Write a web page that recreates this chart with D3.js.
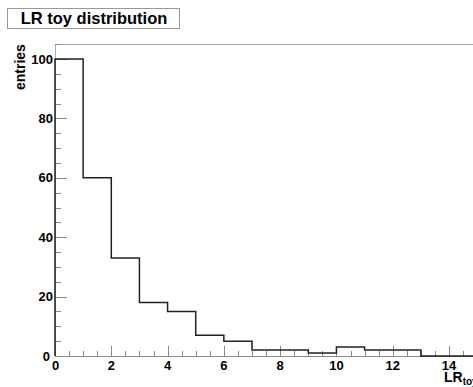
<!DOCTYPE html>
<html><head><meta charset="utf-8">
<script src="https://cdn.jsdelivr.net/npm/d3@7"></script>
<style>body{margin:0;background:#fff}svg{display:block;font-family:"Liberation Sans",Arial,sans-serif}</style>
</head><body>
<script>
const binEdges = [0,1,2,3,4,5,6,7,8,9,10,11,12,13,14,15,16,17,18,19,20];
const counts   = [100,60,33,18,15,7,5,2,2,1,3,2,2,0,0,0,0,0,0,0];
const xTicks = [0,2,4,6,8,10,12,14];
const yTicks = [0,20,40,60,80,100];
const title = "LR toy distribution";
const yLabel = "entries";

const W=473,H=387;
const svg=d3.select("body").append("svg").attr("width",W).attr("height",H);
const x=d3.scaleLinear().domain([0,14]).range([55,449]);
const y=d3.scaleLinear().domain([0,100]).range([356,59]);
const yTop=y(105), xRight=x(20);

// frame
svg.append("line").attr("x1",x(0)).attr("x2",xRight).attr("y1",Math.round(yTop)+0.5).attr("y2",Math.round(yTop)+0.5).attr("stroke","#aaa").attr("stroke-width",1);
svg.append("line").attr("x1",x(0)+0.5).attr("x2",x(0)+0.5).attr("y1",yTop).attr("y2",y(0)).attr("stroke","#aaa");
svg.append("line").attr("x1",x(0)).attr("x2",xRight).attr("y1",y(0)+0.5).attr("y2",y(0)+0.5).attr("stroke","#888");

// x ticks
const xMinor=d3.range(0,20.01,0.5);
svg.append("g").selectAll("line").data(xMinor).join("line")
 .attr("x1",d=>Math.round(x(d))+0.5).attr("x2",d=>Math.round(x(d))+0.5)
 .attr("y1",y(0)).attr("y2",d=>y(0)-(d%2===0?10:5)).attr("stroke","#888");
svg.append("g").selectAll("text").data(xTicks).join("text")
 .attr("x",d=>x(d)+(d===0?0.5:0)).attr("y",370).attr("text-anchor","middle")
 .attr("font-size",13).attr("font-weight","bold").text(d=>d);

// y ticks
const yMinor=d3.range(0,105.01,5);
svg.append("g").selectAll("line").data(yMinor).join("line")
 .attr("x1",x(0)).attr("x2",d=>x(0)+(d%20===0?12:6))
 .attr("y1",d=>Math.round(y(d))+0.5).attr("y2",d=>Math.round(y(d))+0.5).attr("stroke","#888");
svg.append("g").selectAll("text").data(yTicks).join("text")
 .attr("x",d=>d===0?50:53).attr("y",d=>y(d)+(d===0?5:4.5)).attr("text-anchor","end")
 .attr("font-size",13).attr("font-weight","bold").text(d=>d);

// histogram step line
const pts=[[binEdges[0],0]];
counts.forEach((c,i)=>{pts.push([binEdges[i],c]);pts.push([binEdges[i+1],c]);});
svg.append("path").attr("d",d3.line().x(d=>x(d[0])).y(d=>y(d[1])).curve(d3.curveLinear)(pts))
 .attr("fill","none").attr("stroke","#222").attr("stroke-width",1.5);

// title box
svg.append("rect").attr("x",7.5).attr("y",8.5).attr("width",172).attr("height",20).attr("fill","#fff").attr("stroke","#999");
svg.append("text").attr("x",94).attr("y",24).attr("text-anchor","middle").attr("font-size",16.5).attr("font-weight","bold").text(title);

// axis labels
svg.append("text").attr("transform",`translate(25,${yTop}) rotate(-90)`).attr("text-anchor","end")
 .attr("font-size",14).attr("font-weight","bold").text(yLabel);
const xl=svg.append("text").attr("x",444).attr("y",382).attr("font-size",14).attr("font-weight","bold");
xl.append("tspan").text("LR");
xl.append("tspan").attr("dy",3).attr("font-size",10).text("toy");
</script>
</body></html>
